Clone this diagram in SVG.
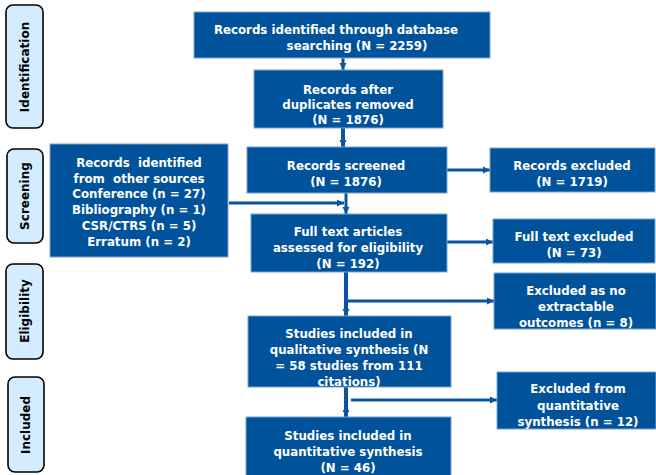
<svg xmlns="http://www.w3.org/2000/svg" width="656" height="475" viewBox="0 0 656 475">
<style>
.box{fill:#00529B;stroke:#7aa3d4;stroke-width:1}
.bt{fill:#ffffff;font-family:"DejaVu Sans",Verdana,sans-serif;font-weight:bold;font-size:11.8px;text-anchor:middle;white-space:pre}
.side{fill:#d3ecff;stroke:#000;stroke-width:1.6}
.st{fill:#000;font-family:"DejaVu Sans",Verdana,sans-serif;font-weight:bold;font-size:12px;text-anchor:middle}
.c{stroke:#0b55a0;stroke-width:3;fill:none}
.cv{stroke:#0b55a0;stroke-width:4;fill:none}
</style>
<defs>
<marker id="ah" markerUnits="userSpaceOnUse" markerWidth="8" markerHeight="8" refX="7" refY="4" orient="auto">
<path d="M0,0.5 L7,4 L0,7.5 z" fill="#0b55a0"/>
</marker>
</defs>
<rect width="656" height="475" fill="#ffffff"/>

<g id="stage-identification">
<rect class="side" x="6" y="5" width="37" height="123" rx="7"/>
<text class="st" transform="translate(29,67) rotate(-90)">Identification</text>
</g>
<g id="stage-screening">
<rect class="side" x="7" y="149" width="36" height="94" rx="7"/>
<text class="st" transform="translate(29,196) rotate(-90)">Screening</text>
</g>
<g id="stage-eligibility">
<rect class="side" x="6" y="264" width="37" height="95" rx="7"/>
<text class="st" transform="translate(29,311) rotate(-90)">Eligibility</text>
</g>
<g id="stage-included">
<rect class="side" x="8" y="377" width="36" height="95" rx="7"/>
<text class="st" transform="translate(30,425) rotate(-90)">Included</text>
</g>

<g id="connectors">
<line class="c" x1="343" y1="58" x2="343" y2="70" marker-end="url(#ah)"/>
<line class="cv" x1="343" y1="128" x2="343" y2="147" marker-end="url(#ah)"/>
<line class="c" x1="229" y1="203" x2="344" y2="203" marker-end="url(#ah)"/>
<line class="c" x1="346" y1="193" x2="346" y2="214" marker-end="url(#ah)"/>
<line class="c" x1="447" y1="170" x2="490" y2="170" marker-end="url(#ah)"/>
<line class="c" x1="447" y1="242" x2="493" y2="242" marker-end="url(#ah)"/>
<line class="cv" x1="346" y1="272" x2="346" y2="316" marker-end="url(#ah)"/>
<line class="c" x1="346" y1="301" x2="494" y2="301" marker-end="url(#ah)"/>
<line class="cv" x1="346" y1="387" x2="346" y2="417" marker-end="url(#ah)"/>
<line class="c" x1="351" y1="400" x2="497" y2="400" marker-end="url(#ah)"/>
</g>

<g id="n-db">
<rect class="box" x="194" y="12" width="296" height="46"/>
<text class="bt" x="336" y="34">Records identified through database</text>
<text class="bt" x="357" y="50">searching (N = 2259)</text>
</g>
<g id="n-dup">
<rect class="box" x="254" y="70" width="189" height="58"/>
<text class="bt" x="348" y="94">Records after</text>
<text class="bt" x="348" y="109">duplicates removed</text>
<text class="bt" x="348" y="124">(N = 1876)</text>
</g>
<g id="n-other">
<rect class="box" x="50" y="144" width="178" height="113"/>
<text class="bt" x="139" y="167" xml:space="preserve">Records  identified</text>
<text class="bt" x="139" y="183" xml:space="preserve">from  other sources</text>
<text class="bt" x="139" y="198">Conference (n = 27)</text>
<text class="bt" x="139" y="214">Bibliography (n = 1)</text>
<text class="bt" x="139" y="230">CSR/CTRS (n = 5)</text>
<text class="bt" x="139" y="246">Erratum (n = 2)</text>
</g>
<g id="n-screened">
<rect class="box" x="247" y="147" width="200" height="46"/>
<text class="bt" x="346" y="170">Records screened</text>
<text class="bt" x="346" y="186">(N = 1876)</text>
</g>
<g id="n-excl1">
<rect class="box" x="490" y="148" width="165" height="44"/>
<text class="bt" x="572" y="170">Records excluded</text>
<text class="bt" x="572" y="186">(N = 1719)</text>
</g>
<g id="n-fulltext">
<rect class="box" x="251" y="214" width="196" height="58"/>
<text class="bt" x="348" y="236">Full text articles</text>
<text class="bt" x="348" y="252">assessed for eligibility</text>
<text class="bt" x="348" y="268">(N = 192)</text>
</g>
<g id="n-excl2">
<rect class="box" x="493" y="219" width="162" height="44"/>
<text class="bt" x="574" y="241">Full text excluded</text>
<text class="bt" x="574" y="257">(N = 73)</text>
</g>
<g id="n-excl3">
<rect class="box" x="494" y="273" width="162" height="56"/>
<text class="bt" x="576" y="295">Excluded as no</text>
<text class="bt" x="576" y="311">extractable</text>
<text class="bt" x="576" y="327">outcomes (n = 8)</text>
</g>
<g id="n-qual">
<rect class="box" x="248" y="316" width="203" height="71"/>
<text class="bt" x="349" y="338">Studies included in</text>
<text class="bt" x="349" y="354">qualitative synthesis (N</text>
<text class="bt" x="349" y="370">= 58 studies from 111</text>
<text class="bt" x="349" y="386">citations)</text>
</g>
<g id="n-excl4">
<rect class="box" x="497" y="372" width="159" height="57"/>
<text class="bt" x="578" y="393">Excluded from</text>
<text class="bt" x="578" y="410">quantitative</text>
<text class="bt" x="578" y="426">synthesis (n = 12)</text>
</g>
<g id="n-quant">
<rect class="box" x="246" y="417" width="205" height="60"/>
<text class="bt" x="348" y="440">Studies included in</text>
<text class="bt" x="348" y="456">quantitative synthesis</text>
<text class="bt" x="348" y="472">(N = 46)</text>
</g>
</svg>
